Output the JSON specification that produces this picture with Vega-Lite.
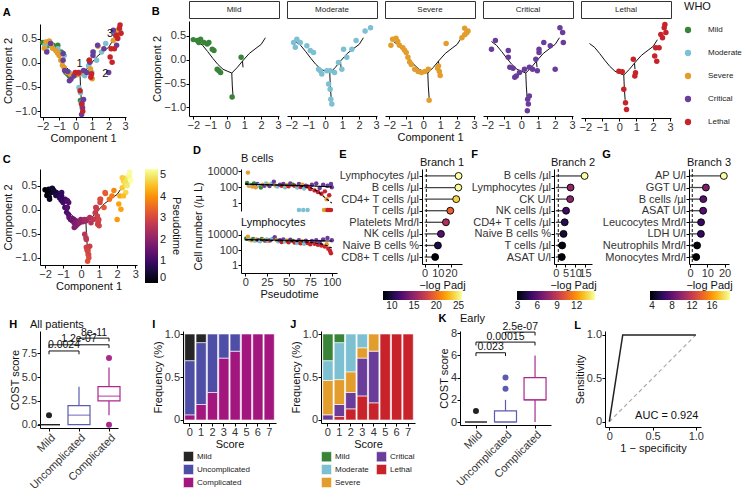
{
"$schema":"https://vega.github.io/schema/vega-lite/v6.json",
"padding":{"left":2,"top":-5,"right":0,"bottom":0},
"config":{
 "font":"Liberation Sans",
 "view":{"stroke":null},
 "axis":{"grid":false,"domainColor":"#000","domainWidth":1,"tickColor":"#000","tickWidth":1,"tickSize":3,"labelColor":"#333","labelFontSize":11,"labelPadding":0.5,"titleColor":"#111","titleFontSize":11,"titleFontWeight":"normal","titlePadding":1,"labelOverlap":false,"labelFlush":false,"labelFont":"Liberation Sans","titleFont":"Liberation Sans"},
 "legend":{"labelFont":"Liberation Sans","titleFont":"Liberation Sans","titleFontWeight":"normal","labelColor":"#222","titleColor":"#111"},
 "title":{"font":"Liberation Sans","fontSize":11,"fontWeight":"normal","color":"#111"}
},
"datasets":{
 "cells":[
  {"x":-2.0,"y":0.42,"who":"Mild","pt":0.0},{"x":-1.76,"y":0.40,"who":"Mild","pt":0.25},{"x":-1.57,"y":0.43,"who":"Mild","pt":0.4},{"x":-1.67,"y":0.36,"who":"Mild","pt":0.35},{"x":-1.37,"y":0.36,"who":"Mild","pt":0.6},{"x":-1.18,"y":0.33,"who":"Mild","pt":0.8},{"x":-1.08,"y":0.36,"who":"Mild","pt":0.9},{"x":-0.88,"y":0.22,"who":"Mild","pt":1.1},{"x":-0.78,"y":0.19,"who":"Mild","pt":1.2},{"x":-0.59,"y":-0.2,"who":"Mild","pt":1.5},{"x":-0.49,"y":-0.23,"who":"Mild","pt":1.65},{"x":-0.39,"y":-0.27,"who":"Mild","pt":1.75},{"x":0.29,"y":-0.78,"who":"Mild","pt":2.9},{"x":0.82,"y":0.05,"who":"Mild","pt":2.8},
  {"x":-1.86,"y":0.36,"who":"Moderate","pt":0.1},{"x":-1.67,"y":0.43,"who":"Moderate","pt":0.3},{"x":-1.76,"y":0.26,"who":"Moderate","pt":0.25},{"x":-1.47,"y":0.36,"who":"Moderate","pt":0.5},{"x":-1.08,"y":0.29,"who":"Moderate","pt":0.9},{"x":-0.88,"y":0.19,"who":"Moderate","pt":1.1},{"x":-0.69,"y":0.15,"who":"Moderate","pt":1.3},{"x":-0.39,"y":-0.2,"who":"Moderate","pt":1.75},{"x":-0.29,"y":-0.23,"who":"Moderate","pt":1.85},{"x":-0.2,"y":-0.3,"who":"Moderate","pt":1.95},{"x":0.1,"y":-0.23,"who":"Moderate","pt":2.2},{"x":0.29,"y":-0.23,"who":"Moderate","pt":2.35},{"x":0.2,"y":-0.51,"who":"Moderate","pt":2.6},{"x":0.29,"y":-0.62,"who":"Moderate","pt":2.7},{"x":0.33,"y":-0.83,"who":"Moderate","pt":2.95},{"x":0.39,"y":-0.93,"who":"Moderate","pt":3.05},{"x":0.55,"y":-0.27,"who":"Moderate","pt":2.55},{"x":0.78,"y":-0.06,"who":"Moderate","pt":2.75},{"x":0.98,"y":-0.2,"who":"Moderate","pt":2.95},{"x":1.08,"y":0.22,"who":"Moderate","pt":3.1},{"x":1.27,"y":0.05,"who":"Moderate","pt":3.3},{"x":1.57,"y":0.22,"who":"Moderate","pt":3.6},{"x":1.82,"y":0.40,"who":"Moderate","pt":3.9},{"x":2.35,"y":0.60,"who":"Moderate","pt":4.7},{"x":2.67,"y":0.67,"who":"Moderate","pt":5.2},
  {"x":-1.8,"y":0.43,"who":"Severe","pt":0.2},{"x":-1.6,"y":0.45,"who":"Severe","pt":0.4},{"x":-1.9,"y":0.3,"who":"Severe","pt":0.1},{"x":-1.5,"y":0.38,"who":"Severe","pt":0.5},{"x":-1.4,"y":0.3,"who":"Severe","pt":0.6},{"x":-1.2,"y":0.25,"who":"Severe","pt":0.8},{"x":-1.1,"y":0.2,"who":"Severe","pt":0.9},{"x":-1.0,"y":0.15,"who":"Severe","pt":1.0},{"x":-0.9,"y":0.05,"who":"Severe","pt":1.1},{"x":-0.8,"y":-0.05,"who":"Severe","pt":1.2},{"x":-0.7,"y":-0.1,"who":"Severe","pt":1.35},{"x":-0.5,"y":-0.2,"who":"Severe","pt":1.6},{"x":-0.3,"y":-0.25,"who":"Severe","pt":1.85},{"x":-0.1,"y":-0.27,"who":"Severe","pt":2.0},{"x":0.1,"y":-0.25,"who":"Severe","pt":2.2},{"x":0.3,"y":-0.2,"who":"Severe","pt":2.4},{"x":0.35,"y":-0.85,"who":"Severe","pt":2.95},{"x":0.85,"y":-0.18,"who":"Severe","pt":2.85},{"x":0.95,"y":-0.25,"who":"Severe","pt":2.95},{"x":1.0,"y":-0.33,"who":"Severe","pt":3.0},{"x":0.9,"y":-0.13,"who":"Severe","pt":2.9},{"x":1.35,"y":0.34,"who":"Severe","pt":3.4},{"x":2.28,"y":0.46,"who":"Severe","pt":4.6},{"x":2.44,"y":0.52,"who":"Severe","pt":4.8},{"x":2.44,"y":0.66,"who":"Severe","pt":4.9},{"x":2.64,"y":0.6,"who":"Severe","pt":5.1},{"x":2.55,"y":0.56,"who":"Severe","pt":5.0},
  {"x":-1.52,"y":0.40,"who":"Critical","pt":0.45},{"x":-1.75,"y":0.22,"who":"Critical","pt":0.3},{"x":-0.76,"y":0.19,"who":"Critical","pt":1.25},{"x":-0.76,"y":0.05,"who":"Critical","pt":1.3},{"x":-0.67,"y":-0.16,"who":"Critical","pt":1.4},{"x":-0.48,"y":-0.18,"who":"Critical","pt":1.65},{"x":-0.38,"y":-0.37,"who":"Critical","pt":1.8},{"x":-0.29,"y":-0.34,"who":"Critical","pt":1.9},{"x":-0.1,"y":-0.27,"who":"Critical","pt":2.05},{"x":0.19,"y":-0.2,"who":"Critical","pt":2.3},{"x":0.48,"y":-0.16,"who":"Critical","pt":2.5},{"x":0.67,"y":-0.2,"who":"Critical","pt":2.7},{"x":0.95,"y":-0.23,"who":"Critical","pt":2.95},{"x":0.38,"y":-0.83,"who":"Critical","pt":2.95},{"x":0.42,"y":-0.93,"who":"Critical","pt":3.05},{"x":0.36,"y":-1.07,"who":"Critical","pt":3.2},{"x":0.48,"y":-0.76,"who":"Critical","pt":2.9},{"x":0.86,"y":0.01,"who":"Critical","pt":2.85},{"x":1.05,"y":0.15,"who":"Critical","pt":3.05},{"x":1.05,"y":0.22,"who":"Critical","pt":3.1},{"x":1.33,"y":0.36,"who":"Critical","pt":3.35},{"x":1.71,"y":0.29,"who":"Critical","pt":3.75},{"x":2.0,"y":-0.2,"who":"Critical","pt":4.1},{"x":2.28,"y":0.67,"who":"Critical","pt":4.7},{"x":2.44,"y":0.57,"who":"Critical","pt":4.9},{"x":2.48,"y":0.36,"who":"Critical","pt":4.8},
  {"x":-0.02,"y":-0.2,"who":"Lethal","pt":2.1},{"x":0.18,"y":-0.21,"who":"Lethal","pt":2.3},{"x":0.27,"y":-0.58,"who":"Lethal","pt":2.7},{"x":0.37,"y":-0.86,"who":"Lethal","pt":3.0},{"x":0.43,"y":-1.0,"who":"Lethal","pt":3.1},{"x":0.83,"y":0.05,"who":"Lethal","pt":2.8},{"x":0.96,"y":-0.23,"who":"Lethal","pt":2.95},{"x":0.92,"y":-0.3,"who":"Lethal","pt":2.9},{"x":2.15,"y":0.29,"who":"Lethal","pt":4.3},{"x":2.35,"y":0.29,"who":"Lethal","pt":4.5},{"x":2.09,"y":0.12,"who":"Lethal","pt":4.2},{"x":2.21,"y":0.01,"who":"Lethal","pt":4.2},{"x":2.45,"y":0.57,"who":"Lethal","pt":4.9},{"x":2.65,"y":0.71,"who":"Lethal","pt":5.2},{"x":2.75,"y":0.61,"who":"Lethal","pt":5.3},{"x":2.55,"y":0.5,"who":"Lethal","pt":5.0},{"x":2.69,"y":0.78,"who":"Lethal","pt":5.25}
 ],
 "whoList":[{"who":"Mild"},{"who":"Moderate"},{"who":"Severe"},{"who":"Critical"},{"who":"Lethal"}],
 "tree":[
  {"seg":"main","x":-1.75,"y":0.38},{"seg":"main","x":-1.45,"y":0.30},{"seg":"main","x":-1.15,"y":0.17},{"seg":"main","x":-0.85,"y":0.03},{"seg":"main","x":-0.55,"y":-0.10},{"seg":"main","x":-0.25,"y":-0.20},{"seg":"main","x":0.0,"y":-0.24},{"seg":"main","x":0.27,"y":-0.28},
  {"seg":"down","x":0.27,"y":-0.28},{"seg":"down","x":0.3,"y":-0.55},{"seg":"down","x":0.35,"y":-0.8},
  {"seg":"right","x":0.27,"y":-0.28},{"seg":"right","x":0.6,"y":-0.16},{"seg":"right","x":0.9,"y":-0.03},{"seg":"right","x":1.3,"y":0.13},{"seg":"right","x":1.7,"y":0.24},{"seg":"right","x":2.0,"y":0.32},{"seg":"right","x":2.25,"y":0.46},
  {"seg":"stub","x":0.9,"y":-0.03},{"seg":"stub","x":0.93,"y":-0.16}
 ],
 "branch":[{"x":0.23,"y":-0.02,"lab":"1"},{"x":1.79,"y":-0.23,"lab":"2"},{"x":2.09,"y":0.6,"lab":"3"}],
 "dB":[
  {"t":2,"v":350,"who":"Mild"},{"t":3,"v":7000,"who":"Severe"},{"t":4,"v":150,"who":"Severe"},{"t":6,"v":200,"who":"Moderate"},{"t":8,"v":120,"who":"Severe"},{"t":10,"v":300,"who":"Mild"},{"t":12,"v":100,"who":"Severe"},{"t":14,"v":250,"who":"Critical"},{"t":16,"v":180,"who":"Moderate"},{"t":18,"v":90,"who":"Mild"},{"t":20,"v":200,"who":"Severe"},{"t":22,"v":150,"who":"Critical"},{"t":24,"v":300,"who":"Moderate"},{"t":26,"v":200,"who":"Severe"},{"t":28,"v":140,"who":"Critical"},{"t":30,"v":250,"who":"Moderate"},{"t":33,"v":500,"who":"Critical"},{"t":35,"v":160,"who":"Severe"},{"t":37,"v":120,"who":"Moderate"},{"t":40,"v":200,"who":"Critical"},{"t":42,"v":150,"who":"Lethal"},{"t":44,"v":250,"who":"Critical"},{"t":46,"v":100,"who":"Moderate"},{"t":48,"v":180,"who":"Severe"},{"t":50,"v":130,"who":"Lethal"},{"t":52,"v":300,"who":"Critical"},{"t":55,"v":200,"who":"Mild"},{"t":57,"v":150,"who":"Lethal"},{"t":60,"v":90,"who":"Moderate"},{"t":62,"v":250,"who":"Critical"},{"t":64,"v":110,"who":"Lethal"},{"t":66,"v":200,"who":"Severe"},{"t":68,"v":70,"who":"Moderate"},{"t":70,"v":150,"who":"Critical"},{"t":72,"v":120,"who":"Lethal"},{"t":75,"v":60,"who":"Lethal"},{"t":77,"v":200,"who":"Critical"},{"t":80,"v":40,"who":"Lethal"},{"t":82,"v":300,"who":"Critical"},{"t":84,"v":25,"who":"Lethal"},{"t":86,"v":80,"who":"Critical"},{"t":88,"v":15,"who":"Lethal"},{"t":90,"v":200,"who":"Critical"},{"t":92,"v":30,"who":"Lethal"},{"t":94,"v":3,"who":"Severe"},{"t":95,"v":150,"who":"Critical"},{"t":97,"v":10,"who":"Lethal"},{"t":99,"v":250,"who":"Critical"},{"t":100,"v":100,"who":"Critical"},
  {"t":62,"v":0.13,"who":"Moderate"},{"t":67,"v":0.13,"who":"Moderate"},{"t":72,"v":0.13,"who":"Moderate"},{"t":91,"v":0.13,"who":"Severe"},{"t":93,"v":0.13,"who":"Severe"},{"t":95,"v":0.13,"who":"Lethal"},{"t":97,"v":0.13,"who":"Lethal"},{"t":99,"v":0.13,"who":"Lethal"}
 ],
 "dBl":[
  {"t":0,"v":250,"fit":"solid"},{"t":25,"v":200,"fit":"solid"},{"t":50,"v":180,"fit":"solid"},{"t":75,"v":150,"fit":"solid"},{"t":100,"v":110,"fit":"solid"},
  {"t":0,"v":250,"fit":"dashed"},{"t":30,"v":200,"fit":"dashed"},{"t":60,"v":150,"fit":"dashed"},{"t":75,"v":90,"fit":"dashed"},{"t":82,"v":40,"fit":"dashed"},{"t":88,"v":12,"fit":"dashed"},{"t":93,"v":4,"fit":"dashed"},{"t":100,"v":1,"fit":"dashed"}
 ],
 "dL":[
  {"t":1,"v":3500,"who":"Mild"},{"t":3,"v":6000,"who":"Severe"},{"t":5,"v":2500,"who":"Moderate"},{"t":7,"v":2000,"who":"Severe"},{"t":9,"v":3000,"who":"Mild"},{"t":11,"v":1800,"who":"Moderate"},{"t":13,"v":2500,"who":"Severe"},{"t":15,"v":2000,"who":"Critical"},{"t":17,"v":1500,"who":"Moderate"},{"t":19,"v":3000,"who":"Mild"},{"t":21,"v":2200,"who":"Severe"},{"t":23,"v":1800,"who":"Critical"},{"t":25,"v":2500,"who":"Moderate"},{"t":27,"v":1600,"who":"Severe"},{"t":29,"v":2000,"who":"Critical"},{"t":31,"v":3000,"who":"Moderate"},{"t":34,"v":5000,"who":"Critical"},{"t":36,"v":2200,"who":"Severe"},{"t":38,"v":1500,"who":"Moderate"},{"t":40,"v":2000,"who":"Critical"},{"t":42,"v":1200,"who":"Lethal"},{"t":44,"v":2500,"who":"Critical"},{"t":46,"v":1400,"who":"Moderate"},{"t":48,"v":1800,"who":"Severe"},{"t":50,"v":1100,"who":"Lethal"},{"t":52,"v":2400,"who":"Critical"},{"t":55,"v":1600,"who":"Mild"},{"t":57,"v":1000,"who":"Lethal"},{"t":60,"v":900,"who":"Moderate"},{"t":62,"v":2000,"who":"Critical"},{"t":64,"v":800,"who":"Lethal"},{"t":66,"v":1500,"who":"Severe"},{"t":68,"v":700,"who":"Moderate"},{"t":70,"v":1800,"who":"Critical"},{"t":72,"v":900,"who":"Lethal"},{"t":75,"v":600,"who":"Lethal"},{"t":77,"v":1600,"who":"Critical"},{"t":80,"v":700,"who":"Lethal"},{"t":82,"v":2000,"who":"Critical"},{"t":84,"v":500,"who":"Lethal"},{"t":86,"v":1200,"who":"Critical"},{"t":88,"v":400,"who":"Lethal"},{"t":90,"v":2500,"who":"Critical"},{"t":92,"v":300,"who":"Lethal"},{"t":94,"v":600,"who":"Severe"},{"t":95,"v":4000,"who":"Critical"},{"t":96,"v":150,"who":"Lethal"},{"t":98,"v":80,"who":"Lethal"},{"t":99,"v":40,"who":"Lethal"},{"t":100,"v":2000,"who":"Critical"}
 ],
 "dLl":[
  {"t":0,"v":2500,"fit":"solid"},{"t":50,"v":2000,"fit":"solid"},{"t":100,"v":1600,"fit":"solid"},
  {"t":0,"v":2200,"fit":"dashed"},{"t":40,"v":1800,"fit":"dashed"},{"t":70,"v":1200,"fit":"dashed"},{"t":85,"v":800,"fit":"dashed"},{"t":92,"v":500,"fit":"dashed"},{"t":100,"v":200,"fit":"dashed"}
 ],
 "lolli":[
  {"br":"Branch 1","var":"Lymphocytes /µl","val":25.8},{"br":"Branch 1","var":"B cells /µl","val":25.6},{"br":"Branch 1","var":"CD4+ T cells /µl","val":24.0},{"br":"Branch 1","var":"T cells /µl","val":19.5},{"br":"Branch 1","var":"Platelets Mrd/l","val":16.2},{"br":"Branch 1","var":"NK cells /µl","val":12.4},{"br":"Branch 1","var":"Naive B cells %","val":10.1},{"br":"Branch 1","var":"CD8+ T cells /µl","val":8.0},
  {"br":"Branch 2","var":"B cells /µl","val":14.8},{"br":"Branch 2","var":"Lymphocytes /µl","val":7.6},{"br":"Branch 2","var":"CK U/l","val":7.4},{"br":"Branch 2","var":"NK cells /µl","val":5.3},{"br":"Branch 2","var":"CD4+ T cells /µl","val":4.6},{"br":"Branch 2","var":"Naive B cells %","val":4.0},{"br":"Branch 2","var":"T cells /µl","val":3.3},{"br":"Branch 2","var":"ASAT U/l","val":3.1},
  {"br":"Branch 3","var":"AP U/l","val":19.6},{"br":"Branch 3","var":"GGT U/l","val":9.2},{"br":"Branch 3","var":"B cells /µl","val":7.7},{"br":"Branch 3","var":"ASAT U/l","val":7.6},{"br":"Branch 3","var":"Leucocytes Mrd/l","val":6.4},{"br":"Branch 3","var":"LDH U/l","val":6.3},{"br":"Branch 3","var":"Neutrophils Mrd/l","val":4.1},{"br":"Branch 3","var":"Monocytes Mrd/l","val":3.6}
 ],
 "boxH":[{"g":"Mild","lo":0,"q1":0,"med":0,"q3":0,"hi":0},{"g":"Uncomplicated","lo":0,"q1":0,"med":1,"q3":2,"hi":4},{"g":"Complicated","lo":1,"q1":2.5,"med":3,"q3":4,"hi":6}],
 "outH":[{"g":"Mild","v":1},{"g":"Complicated","v":7},{"g":"Complicated","v":0}],
 "brH":[{"from":"Mild","to":"Uncomplicated","y":7.75,"yb":7.4,"lab":"0.0024","adj":1},{"from":"Mild","to":"Complicated","mid":"Uncomplicated","y":8.4,"yb":8.05,"lab":"1.2e-07","adj":0},{"from":"Uncomplicated","to":"Complicated","y":9.1,"yb":8.75,"lab":"8e-11","adj":1}],
 "boxK":[{"g":"Mild","lo":0,"q1":0,"med":0,"q3":0,"hi":0},{"g":"Uncomplicated","lo":0,"q1":0,"med":0,"q3":1,"hi":2},{"g":"Complicated","lo":0,"q1":2,"med":2,"q3":4,"hi":6}],
 "outK":[{"g":"Mild","v":1},{"g":"Uncomplicated","v":3},{"g":"Uncomplicated","v":4}],
 "brK":[{"from":"Mild","to":"Uncomplicated","y":6.24,"yb":5.94,"lab":"0.023","adj":1},{"from":"Mild","to":"Complicated","mid":"Uncomplicated","y":7.2,"yb":6.9,"lab":"0.00015","adj":0},{"from":"Uncomplicated","to":"Complicated","y":8.1,"yb":7.8,"lab":"2.5e-07","adj":1}],
 "freqI":[
  {"score":0,"cat":"Complicated","k":1,"frac":0.06},{"score":0,"cat":"Uncomplicated","k":2,"frac":0.63},{"score":0,"cat":"Mild","k":3,"frac":0.31},
  {"score":1,"cat":"Complicated","k":1,"frac":0.18},{"score":1,"cat":"Uncomplicated","k":2,"frac":0.72},{"score":1,"cat":"Mild","k":3,"frac":0.10},
  {"score":2,"cat":"Complicated","k":1,"frac":0.32},{"score":2,"cat":"Uncomplicated","k":2,"frac":0.68},
  {"score":3,"cat":"Complicated","k":1,"frac":0.72},{"score":3,"cat":"Uncomplicated","k":2,"frac":0.28},
  {"score":4,"cat":"Complicated","k":1,"frac":0.80},{"score":4,"cat":"Uncomplicated","k":2,"frac":0.20},
  {"score":5,"cat":"Complicated","k":1,"frac":1.0},{"score":6,"cat":"Complicated","k":1,"frac":1.0},{"score":7,"cat":"Complicated","k":1,"frac":1.0}
 ],
 "freqJ":[
  {"score":0,"cat":"Critical","k":2,"frac":0.06},{"score":0,"cat":"Severe","k":3,"frac":0.40},{"score":0,"cat":"Moderate","k":4,"frac":0.23},{"score":0,"cat":"Mild","k":5,"frac":0.31},
  {"score":1,"cat":"Lethal","k":1,"frac":0.04},{"score":1,"cat":"Critical","k":2,"frac":0.14},{"score":1,"cat":"Severe","k":3,"frac":0.29},{"score":1,"cat":"Moderate","k":4,"frac":0.43},{"score":1,"cat":"Mild","k":5,"frac":0.10},
  {"score":2,"cat":"Lethal","k":1,"frac":0.13},{"score":2,"cat":"Critical","k":2,"frac":0.19},{"score":2,"cat":"Severe","k":3,"frac":0.24},{"score":2,"cat":"Moderate","k":4,"frac":0.44},
  {"score":3,"cat":"Lethal","k":1,"frac":0.28},{"score":3,"cat":"Critical","k":2,"frac":0.44},{"score":3,"cat":"Severe","k":3,"frac":0.12},{"score":3,"cat":"Moderate","k":4,"frac":0.16},
  {"score":4,"cat":"Lethal","k":1,"frac":0.20},{"score":4,"cat":"Critical","k":2,"frac":0.60},{"score":4,"cat":"Severe","k":3,"frac":0.20},
  {"score":5,"cat":"Lethal","k":1,"frac":1.0},{"score":6,"cat":"Lethal","k":1,"frac":1.0},{"score":7,"cat":"Lethal","k":1,"frac":1.0}
 ],
 "roc":[{"fpr":0,"tpr":0},{"fpr":0.155,"tpr":1},{"fpr":1,"tpr":1}],
 "diag":[{"fpr":0,"tpr":0},{"fpr":1,"tpr":1}],
 "auc":[{"fpr":1.03,"tpr":0.066,"lab":"AUC = 0.924"}]
},
"spacing":1,
"resolve":{"scale":{"color":"independent","fill":"independent","stroke":"independent"},"legend":{"color":"independent","fill":"independent","stroke":"independent"}},
"vconcat":[
 {"spacing":22,
  "resolve":{"scale":{"color":"independent","fill":"independent","stroke":"independent"},"legend":{"color":"independent","fill":"independent","stroke":"independent"}},
  "hconcat":[
  {"spacing":0,
   "resolve":{"scale":{"color":"independent"},"legend":{"color":"independent"}},
   "vconcat":[
   {"data":{"values":[{"s":""}]},"width":1,"height":1,"mark":{"type":"text","opacity":0},"encoding":{"text":{"field":"s"}}},
   {"title":{"text":"A","anchor":"start","frame":"bounds","fontWeight":"bold","fontSize":11,"color":"#000","offset":4},
   "width":86,"height":93,
   "layer":[
    {"data":{"name":"tree"},"mark":{"type":"line","color":"#111","strokeWidth":1},
     "encoding":{"x":{"field":"x","type":"quantitative","scale":{"domain":[-2.16,3.05],"nice":false,"zero":false},"axis":{"values":[-2,-1,0,1,2,3],"title":"Component 1"}},
      "y":{"field":"y","type":"quantitative","scale":{"domain":[-1.12,0.8],"nice":false,"zero":false},"axis":{"values":[-1,-0.5,0,0.5],"format":".1f","title":"Component 2"}},
      "detail":{"field":"seg"}}},
    {"data":{"name":"cells"},"mark":{"type":"circle","size":30,"opacity":1},
     "encoding":{"x":{"field":"x","type":"quantitative","scale":{"domain":[-2.16,3.05],"nice":false,"zero":false},"axis":{"values":[-2,-1,0,1,2,3],"title":"Component 1"}},
      "y":{"field":"y","type":"quantitative","scale":{"domain":[-1.12,0.8],"nice":false,"zero":false},"axis":{"values":[-1,-0.5,0,0.5],"format":".1f","title":"Component 2"}},
      "color":{"field":"who","type":"nominal","scale":{"domain":["Mild","Moderate","Severe","Critical","Lethal"],"range":["#3A843A","#7CC0D2","#E39D2D","#6A3D9A","#C8232B"]},"legend":null}}},
    {"data":{"name":"branch"},"mark":{"type":"text","fontSize":11,"color":"#111"},
     "encoding":{"x":{"field":"x","type":"quantitative","scale":{"domain":[-2.16,3.05],"nice":false,"zero":false},"axis":{"values":[-2,-1,0,1,2,3],"title":"Component 1"}},
      "y":{"field":"y","type":"quantitative","scale":{"domain":[-1.12,0.8],"nice":false,"zero":false},"axis":{"values":[-1,-0.5,0,0.5],"format":".1f","title":"Component 2"}},
      "text":{"field":"lab"}}}
   ]}]},
  {"title":{"text":"B","anchor":"start","frame":"bounds","fontWeight":"bold","fontSize":11,"color":"#000","offset":-16},
   "spacing":2,
   "resolve":{"scale":{"color":"independent"},"legend":{"color":"independent"}},
   "hconcat":[
    {"spacing":2,"vconcat":[
      {"data":{"values":[{"s":"Mild"}]},"width":90,"height":17,"view":{"stroke":"#333","strokeWidth":1,"fill":"#fff"},"mark":{"type":"text","fontSize":8,"color":"#222"},"encoding":{"text":{"field":"s"}}},
      {"width":90,"height":95,"layer":[
        {"data":{"name":"tree"},"mark":{"type":"line","color":"#111","strokeWidth":1},"encoding":{"x":{"field":"x","type":"quantitative","scale":{"domain":[-2.25,3.05],"nice":false,"zero":false},"axis":{"values":[-2,-1,0,1,2,3],"title":null}},"y":{"field":"y","type":"quantitative","scale":{"domain":[-1.18,0.81],"nice":false,"zero":false},"axis":{"values":[-1,-0.5,0,0.5],"format":".1f","title":"Component 2"}},"detail":{"field":"seg"}}},
        {"data":{"name":"cells"},"transform":[{"filter":"datum.who=='Mild'"}],"mark":{"type":"circle","size":30,"opacity":1},"encoding":{"x":{"field":"x","type":"quantitative","scale":{"domain":[-2.25,3.05],"nice":false,"zero":false},"axis":{"values":[-2,-1,0,1,2,3],"title":null}},"y":{"field":"y","type":"quantitative","scale":{"domain":[-1.18,0.81],"nice":false,"zero":false},"axis":{"values":[-1,-0.5,0,0.5],"format":".1f","title":"Component 2"}},"color":{"field":"who","type":"nominal","scale":{"domain":["Mild","Moderate","Severe","Critical","Lethal"],"range":["#3A843A","#7CC0D2","#E39D2D","#6A3D9A","#C8232B"]},"legend":null}}}
      ]}
    ]},
    {"spacing":2,"vconcat":[
      {"data":{"values":[{"s":"Moderate"}]},"width":90,"height":17,"view":{"stroke":"#333","strokeWidth":1,"fill":"#fff"},"mark":{"type":"text","fontSize":8,"color":"#222"},"encoding":{"text":{"field":"s"}}},
      {"width":90,"height":95,"layer":[
        {"data":{"name":"tree"},"mark":{"type":"line","color":"#111","strokeWidth":1},"encoding":{"x":{"field":"x","type":"quantitative","scale":{"domain":[-2.25,3.05],"nice":false,"zero":false},"axis":{"values":[-2,-1,0,1,2,3],"title":null}},"y":{"field":"y","type":"quantitative","scale":{"domain":[-1.18,0.81],"nice":false,"zero":false},"axis":null},"detail":{"field":"seg"}}},
        {"data":{"name":"cells"},"transform":[{"filter":"datum.who=='Moderate'"}],"mark":{"type":"circle","size":30,"opacity":1},"encoding":{"x":{"field":"x","type":"quantitative","scale":{"domain":[-2.25,3.05],"nice":false,"zero":false},"axis":{"values":[-2,-1,0,1,2,3],"title":null}},"y":{"field":"y","type":"quantitative","scale":{"domain":[-1.18,0.81],"nice":false,"zero":false},"axis":null},"color":{"field":"who","type":"nominal","scale":{"domain":["Mild","Moderate","Severe","Critical","Lethal"],"range":["#3A843A","#7CC0D2","#E39D2D","#6A3D9A","#C8232B"]},"legend":null}}}
      ]}
    ]},
    {"spacing":2,"vconcat":[
      {"data":{"values":[{"s":"Severe"}]},"width":90,"height":17,"view":{"stroke":"#333","strokeWidth":1,"fill":"#fff"},"mark":{"type":"text","fontSize":8,"color":"#222"},"encoding":{"text":{"field":"s"}}},
      {"width":90,"height":95,"layer":[
        {"data":{"name":"tree"},"mark":{"type":"line","color":"#111","strokeWidth":1},"encoding":{"x":{"field":"x","type":"quantitative","scale":{"domain":[-2.25,3.05],"nice":false,"zero":false},"axis":{"values":[-2,-1,0,1,2,3],"title":"Component 1"}},"y":{"field":"y","type":"quantitative","scale":{"domain":[-1.18,0.81],"nice":false,"zero":false},"axis":null},"detail":{"field":"seg"}}},
        {"data":{"name":"cells"},"transform":[{"filter":"datum.who=='Severe'"}],"mark":{"type":"circle","size":30,"opacity":1},"encoding":{"x":{"field":"x","type":"quantitative","scale":{"domain":[-2.25,3.05],"nice":false,"zero":false},"axis":{"values":[-2,-1,0,1,2,3],"title":"Component 1"}},"y":{"field":"y","type":"quantitative","scale":{"domain":[-1.18,0.81],"nice":false,"zero":false},"axis":null},"color":{"field":"who","type":"nominal","scale":{"domain":["Mild","Moderate","Severe","Critical","Lethal"],"range":["#3A843A","#7CC0D2","#E39D2D","#6A3D9A","#C8232B"]},"legend":null}}}
      ]}
    ]},
    {"spacing":2,"vconcat":[
      {"data":{"values":[{"s":"Critical"}]},"width":90,"height":17,"view":{"stroke":"#333","strokeWidth":1,"fill":"#fff"},"mark":{"type":"text","fontSize":8,"color":"#222"},"encoding":{"text":{"field":"s"}}},
      {"width":90,"height":95,"layer":[
        {"data":{"name":"tree"},"mark":{"type":"line","color":"#111","strokeWidth":1},"encoding":{"x":{"field":"x","type":"quantitative","scale":{"domain":[-2.25,3.05],"nice":false,"zero":false},"axis":{"values":[-2,-1,0,1,2,3],"title":null}},"y":{"field":"y","type":"quantitative","scale":{"domain":[-1.18,0.81],"nice":false,"zero":false},"axis":null},"detail":{"field":"seg"}}},
        {"data":{"name":"cells"},"transform":[{"filter":"datum.who=='Critical'"}],"mark":{"type":"circle","size":30,"opacity":1},"encoding":{"x":{"field":"x","type":"quantitative","scale":{"domain":[-2.25,3.05],"nice":false,"zero":false},"axis":{"values":[-2,-1,0,1,2,3],"title":null}},"y":{"field":"y","type":"quantitative","scale":{"domain":[-1.18,0.81],"nice":false,"zero":false},"axis":null},"color":{"field":"who","type":"nominal","scale":{"domain":["Mild","Moderate","Severe","Critical","Lethal"],"range":["#3A843A","#7CC0D2","#E39D2D","#6A3D9A","#C8232B"]},"legend":null}}}
      ]}
    ]},
    {"spacing":2,"vconcat":[
      {"data":{"values":[{"s":"Lethal"}]},"width":90,"height":17,"view":{"stroke":"#333","strokeWidth":1,"fill":"#fff"},"mark":{"type":"text","fontSize":8,"color":"#222"},"encoding":{"text":{"field":"s"}}},
      {"width":90,"height":95,"layer":[
        {"data":{"name":"tree"},"mark":{"type":"line","color":"#111","strokeWidth":1},"encoding":{"x":{"field":"x","type":"quantitative","scale":{"domain":[-2.25,3.05],"nice":false,"zero":false},"axis":{"values":[-2,-1,0,1,2,3],"title":null}},"y":{"field":"y","type":"quantitative","scale":{"domain":[-1.18,0.81],"nice":false,"zero":false},"axis":null},"detail":{"field":"seg"}}},
        {"data":{"name":"cells"},"transform":[{"filter":"datum.who=='Lethal'"}],"mark":{"type":"circle","size":30,"opacity":1},"encoding":{"x":{"field":"x","type":"quantitative","scale":{"domain":[-2.25,3.05],"nice":false,"zero":false},"axis":{"values":[-2,-1,0,1,2,3],"title":null}},"y":{"field":"y","type":"quantitative","scale":{"domain":[-1.18,0.81],"nice":false,"zero":false},"axis":null},"color":{"field":"who","type":"nominal","scale":{"domain":["Mild","Moderate","Severe","Critical","Lethal"],"range":["#3A843A","#7CC0D2","#E39D2D","#6A3D9A","#C8232B"]},"legend":null}}}
      ]}
    ]},
    {"data":{"name":"whoList"},"width":1,"height":17,
     "mark":{"type":"circle","opacity":0},
     "encoding":{"color":{"field":"who","type":"nominal","scale":{"domain":["Mild","Moderate","Severe","Critical","Lethal"],"range":["#3A843A","#7CC0D2","#E39D2D","#6A3D9A","#C8232B"]},"legend":{"title":"WHO","orient":"right","offset":4,"titleFontSize":11,"labelFontSize":8,"symbolType":"circle","symbolSize":40,"symbolOpacity":1,"rowPadding":15,"titlePadding":14,"labelOffset":16,"symbolStrokeWidth":0}}}}
   ]}
 ]},
 {"spacing":-2,
  "resolve":{"scale":{"color":"independent","fill":"independent","stroke":"independent"},"legend":{"color":"independent","fill":"independent","stroke":"independent"}},
  "hconcat":[
  {"spacing":10,
   "resolve":{"scale":{"color":"independent","fill":"independent","stroke":"independent"},"legend":{"color":"independent","fill":"independent","stroke":"independent"}},
   "hconcat":[
  {"title":{"text":"C","anchor":"start","frame":"bounds","fontWeight":"bold","fontSize":11,"color":"#000","offset":4},
   "width":97,"height":96,
   "layer":[
    {"data":{"name":"tree"},"mark":{"type":"line","color":"#111","strokeWidth":1},
     "encoding":{"x":{"field":"x","type":"quantitative","scale":{"domain":[-2.28,3.1],"nice":false,"zero":false},"axis":{"values":[-2,-1,0,1,2,3],"title":"Component 1"}},
      "y":{"field":"y","type":"quantitative","scale":{"domain":[-1.15,0.85],"nice":false,"zero":false},"axis":{"values":[-1,-0.5,0,0.5],"format":".1f","title":"Component 2"}},
      "detail":{"field":"seg"}}},
    {"data":{"name":"cells"},"mark":{"type":"circle","size":30,"opacity":1},
     "encoding":{"x":{"field":"x","type":"quantitative","scale":{"domain":[-2.28,3.1],"nice":false,"zero":false},"axis":{"values":[-2,-1,0,1,2,3],"title":"Component 1"}},
      "y":{"field":"y","type":"quantitative","scale":{"domain":[-1.15,0.85],"nice":false,"zero":false},"axis":{"values":[-1,-0.5,0,0.5],"format":".1f","title":"Component 2"}},
      "color":{"field":"pt","type":"quantitative","scale":{"scheme":"inferno","domain":[0,5.3]},"legend":{"title":"Pseudotime","titleOrient":"right","titleAngle":90,"titleAnchor":"middle","gradientLength":114,"gradientThickness":13,"values":[0,1,2,3,4,5],"labelFontSize":11,"titleFontSize":11,"offset":8,"direction":"vertical","gradientStrokeWidth":0}}}}
   ]},
  {"title":{"text":"D","anchor":"start","frame":"bounds","fontWeight":"bold","fontSize":11,"color":"#000","offset":-3},
   "resolve":{"scale":{"color":"independent","strokeDash":"independent"},"legend":{"color":"independent"}},
   "vconcat":[
   {"title":{"text":"Cell number (/μ L)","orient":"left","anchor":"middle","frame":"bounds","offset":3,"fontSize":11},
    "spacing":3,
    "resolve":{"scale":{"color":"independent","strokeDash":"independent"},"legend":{"color":"independent"}},
    "vconcat":[
    {"title":{"text":"B cells","anchor":"start","frame":"group","offset":1},
     "width":96,"height":42,
     "layer":[
      {"data":{"name":"dB"},"mark":{"type":"circle","size":20,"opacity":1},
       "encoding":{"x":{"field":"t","type":"quantitative","scale":{"domain":[-5,106],"nice":false,"zero":false},"axis":null},
        "y":{"field":"v","type":"quantitative","scale":{"type":"log","domain":[0.1,20000],"nice":false},"axis":{"values":[1,100,10000],"format":"d","title":null}},
        "color":{"field":"who","type":"nominal","scale":{"domain":["Mild","Moderate","Severe","Critical","Lethal"],"range":["#3A843A","#7CC0D2","#E39D2D","#6A3D9A","#C8232B"]},"legend":null}}},
      {"data":{"name":"dBl"},"mark":{"type":"line","color":"#000","strokeWidth":1.1},
       "encoding":{"x":{"field":"t","type":"quantitative","scale":{"domain":[-5,106],"nice":false,"zero":false},"axis":null},
        "y":{"field":"v","type":"quantitative","scale":{"type":"log","domain":[0.1,20000],"nice":false},"axis":{"values":[1,100,10000],"format":"d","title":null}},
        "detail":{"field":"fit"},
        "strokeDash":{"field":"fit","type":"nominal","scale":{"domain":["solid","dashed"],"range":[[1,0],[3,2]]},"legend":null}}}
     ]},
    {"title":{"text":"Lymphocytes","anchor":"start","frame":"group","offset":1},
     "width":96,"height":43,
     "layer":[
      {"data":{"name":"dL"},"mark":{"type":"circle","size":20,"opacity":1},
       "encoding":{"x":{"field":"t","type":"quantitative","scale":{"domain":[-5,106],"nice":false,"zero":false},"axis":{"values":[0,25,50,75,100],"title":"Pseudotime"}},
        "y":{"field":"v","type":"quantitative","scale":{"type":"log","domain":[0.1,45000],"nice":false},"axis":{"values":[1,100,10000],"format":"d","title":null}},
        "color":{"field":"who","type":"nominal","scale":{"domain":["Mild","Moderate","Severe","Critical","Lethal"],"range":["#3A843A","#7CC0D2","#E39D2D","#6A3D9A","#C8232B"]},"legend":null}}},
      {"data":{"name":"dLl"},"mark":{"type":"line","color":"#000","strokeWidth":1.1},
       "encoding":{"x":{"field":"t","type":"quantitative","scale":{"domain":[-5,106],"nice":false,"zero":false},"axis":{"values":[0,25,50,75,100],"title":"Pseudotime"}},
        "y":{"field":"v","type":"quantitative","scale":{"type":"log","domain":[0.1,45000],"nice":false},"axis":{"values":[1,100,10000],"format":"d","title":null}},
        "detail":{"field":"fit"},
        "strokeDash":{"field":"fit","type":"nominal","scale":{"domain":["solid","dashed"],"range":[[1,0],[3,2]]},"legend":null}}}
     ]}
   ]}
   ]}
  ]},
  {"spacing":5,
   "resolve":{"scale":{"fill":"independent"},"legend":{"fill":"independent"}},
   "hconcat":[
    {"title":{"text":"E","anchor":"start","frame":"bounds","fontWeight":"bold","fontSize":11,"color":"#000","offset":-3},
     "vconcat":[
      {"title":{"text":"Branch 1","anchor":"middle","frame":"group","offset":1},
       "width":40,"height":95,
       "layer":[
        {"data":{"name":"lolli"},"transform":[{"filter":"datum.br=='Branch 1'"}],"mark":{"type":"rule","color":"#444","strokeWidth":1.3},
         "encoding":{"y":{"field":"var","type":"nominal","sort":{"field":"val","order":"descending"},"scale":{"type":"point","padding":0.6},"axis":{"title":null}},
          "x":{"field":"val","type":"quantitative","scale":{"domain":[-2,28.4],"nice":false,"zero":false},"axis":{"values":[0,10,20],"title":"−log Padj"}},
          "x2":{"datum":0}}},
        {"data":{"values":[{"p":1.3}]},"mark":{"type":"rule","color":"#111","strokeDash":[3,2],"strokeWidth":1},
         "encoding":{"x":{"field":"p","type":"quantitative","scale":{"domain":[-2,28.4],"nice":false,"zero":false},"axis":{"values":[0,10,20],"title":"−log Padj"}}}},
        {"data":{"name":"lolli"},"transform":[{"filter":"datum.br=='Branch 1'"}],"mark":{"type":"circle","size":48,"stroke":"#000","strokeWidth":0.9,"opacity":1},
         "encoding":{"y":{"field":"var","type":"nominal","sort":{"field":"val","order":"descending"},"scale":{"type":"point","padding":0.6},"axis":{"title":null}},
          "x":{"field":"val","type":"quantitative","scale":{"domain":[-2,28.4],"nice":false,"zero":false},"axis":{"values":[0,10,20],"title":"−log Padj"}},
          "fill":{"field":"val","type":"quantitative","scale":{"scheme":"inferno","domain":[8,25.8]},"legend":{"orient":"none","direction":"horizontal","legendX":-39,"legendY":122,"gradientLength":79,"gradientThickness":9,"title":null,"values":[10,15,20,25],"labelFontSize":10,"labelOffset":1,"gradientStrokeWidth":0}}}}
       ]}
     ]},
    {"title":{"text":"F","anchor":"start","frame":"bounds","fontWeight":"bold","fontSize":11,"color":"#000","offset":-3},
     "vconcat":[
      {"title":{"text":"Branch 2","anchor":"middle","frame":"group","offset":1},
       "width":38,"height":95,
       "layer":[
        {"data":{"name":"lolli"},"transform":[{"filter":"datum.br=='Branch 2'"}],"mark":{"type":"rule","color":"#444","strokeWidth":1.3},
         "encoding":{"y":{"field":"var","type":"nominal","sort":{"field":"val","order":"descending"},"scale":{"type":"point","padding":0.6},"axis":{"title":null}},
          "x":{"field":"val","type":"quantitative","scale":{"domain":[-0.9,18.6],"nice":false,"zero":false},"axis":{"values":[0,5,10,15],"title":"−log Padj"}},
          "x2":{"datum":0}}},
        {"data":{"values":[{"p":1.3}]},"mark":{"type":"rule","color":"#111","strokeDash":[3,2],"strokeWidth":1},
         "encoding":{"x":{"field":"p","type":"quantitative","scale":{"domain":[-0.9,18.6],"nice":false,"zero":false},"axis":{"values":[0,5,10,15],"title":"−log Padj"}}}},
        {"data":{"name":"lolli"},"transform":[{"filter":"datum.br=='Branch 2'"}],"mark":{"type":"circle","size":48,"stroke":"#000","strokeWidth":0.9,"opacity":1},
         "encoding":{"y":{"field":"var","type":"nominal","sort":{"field":"val","order":"descending"},"scale":{"type":"point","padding":0.6},"axis":{"title":null}},
          "x":{"field":"val","type":"quantitative","scale":{"domain":[-0.9,18.6],"nice":false,"zero":false},"axis":{"values":[0,5,10,15],"title":"−log Padj"}},
          "fill":{"field":"val","type":"quantitative","scale":{"scheme":"inferno","domain":[2.9,14.8]},"legend":{"orient":"none","direction":"horizontal","legendX":-37,"legendY":122,"gradientLength":78,"gradientThickness":9,"title":null,"values":[3,6,9,12],"labelFontSize":10,"labelOffset":1,"gradientStrokeWidth":0}}}}
       ]}
     ]},
    {"title":{"text":"G","anchor":"start","frame":"bounds","fontWeight":"bold","fontSize":11,"color":"#000","offset":-3},
     "vconcat":[
      {"title":{"text":"Branch 3","anchor":"middle","frame":"group","offset":1},
       "width":40,"height":95,
       "layer":[
        {"data":{"name":"lolli"},"transform":[{"filter":"datum.br=='Branch 3'"}],"mark":{"type":"rule","color":"#444","strokeWidth":1.3},
         "encoding":{"y":{"field":"var","type":"nominal","sort":{"field":"val","order":"descending"},"scale":{"type":"point","padding":0.6},"axis":{"title":null}},
          "x":{"field":"val","type":"quantitative","scale":{"domain":[-0.6,22.6],"nice":false,"zero":false},"axis":{"values":[0,10,20],"title":"−log Padj"}},
          "x2":{"datum":0}}},
        {"data":{"values":[{"p":1.3}]},"mark":{"type":"rule","color":"#111","strokeDash":[3,2],"strokeWidth":1},
         "encoding":{"x":{"field":"p","type":"quantitative","scale":{"domain":[-0.6,22.6],"nice":false,"zero":false},"axis":{"values":[0,10,20],"title":"−log Padj"}}}},
        {"data":{"name":"lolli"},"transform":[{"filter":"datum.br=='Branch 3'"}],"mark":{"type":"circle","size":48,"stroke":"#000","strokeWidth":0.9,"opacity":1},
         "encoding":{"y":{"field":"var","type":"nominal","sort":{"field":"val","order":"descending"},"scale":{"type":"point","padding":0.6},"axis":{"title":null}},
          "x":{"field":"val","type":"quantitative","scale":{"domain":[-0.6,22.6],"nice":false,"zero":false},"axis":{"values":[0,10,20],"title":"−log Padj"}},
          "fill":{"field":"val","type":"quantitative","scale":{"scheme":"inferno","domain":[3.6,19.6]},"legend":{"orient":"none","direction":"horizontal","legendX":-39,"legendY":122,"gradientLength":80,"gradientThickness":9,"title":null,"values":[4,8,12,16],"labelFontSize":10,"labelOffset":1,"gradientStrokeWidth":0}}}}
       ]}
     ]}
   ]}
 ]},
 {"spacing":31,
  "resolve":{"scale":{"color":"independent","fill":"independent","stroke":"independent"},"legend":{"color":"independent","fill":"independent","stroke":"independent"}},
  "hconcat":[
  {"title":{"text":"H","anchor":"start","frame":"bounds","fontWeight":"bold","fontSize":11,"color":"#000","offset":-11},
   "vconcat":[
    {"title":{"text":"All patients","anchor":"start","frame":"group","offset":-2,"dx":-10},
     "width":78,"height":97,
     "layer":[
      {"data":{"name":"boxH"},"mark":{"type":"rule","strokeWidth":1.2},
       "encoding":{"x":{"field":"g","type":"nominal","scale":{"type":"point","domain":["Mild","Uncomplicated","Complicated"],"padding":0.3},"axis":{"title":null,"labelAngle":-45}},
        "y":{"field":"lo","type":"quantitative","scale":{"domain":[-0.35,9.85],"nice":false,"zero":false},"axis":{"values":[0,2.5,5,7.5],"format":".1f","title":"COST score"}},
        "y2":{"field":"q1"},
        "color":{"field":"g","type":"nominal","scale":{"domain":["Mild","Uncomplicated","Complicated"],"range":["#222222","#5B5BB2","#AA2A8C"]},"legend":null}}},
      {"data":{"name":"boxH"},"mark":{"type":"rule","strokeWidth":1.2},
       "encoding":{"x":{"field":"g","type":"nominal","scale":{"type":"point","domain":["Mild","Uncomplicated","Complicated"],"padding":0.3},"axis":{"title":null,"labelAngle":-45}},
        "y":{"field":"q3","type":"quantitative","scale":{"domain":[-0.35,9.85],"nice":false,"zero":false},"axis":{"values":[0,2.5,5,7.5],"format":".1f","title":"COST score"}},
        "y2":{"field":"hi"},
        "color":{"field":"g","type":"nominal","scale":{"domain":["Mild","Uncomplicated","Complicated"],"range":["#222222","#5B5BB2","#AA2A8C"]},"legend":null}}},
      {"data":{"name":"boxH"},"mark":{"type":"bar","width":22,"fill":"#fff","strokeWidth":1.2},
       "encoding":{"x":{"field":"g","type":"nominal","scale":{"type":"point","domain":["Mild","Uncomplicated","Complicated"],"padding":0.3},"axis":{"title":null,"labelAngle":-45}},
        "y":{"field":"q1","type":"quantitative","scale":{"domain":[-0.35,9.85],"nice":false,"zero":false},"axis":{"values":[0,2.5,5,7.5],"format":".1f","title":"COST score"}},
        "y2":{"field":"q3"},
        "stroke":{"field":"g","type":"nominal","scale":{"domain":["Mild","Uncomplicated","Complicated"],"range":["#222222","#5B5BB2","#AA2A8C"]},"legend":null}}},
      {"data":{"name":"boxH"},"mark":{"type":"tick","size":22,"thickness":1.3},
       "encoding":{"x":{"field":"g","type":"nominal","scale":{"type":"point","domain":["Mild","Uncomplicated","Complicated"],"padding":0.3},"axis":{"title":null,"labelAngle":-45}},
        "y":{"field":"med","type":"quantitative","scale":{"domain":[-0.35,9.85],"nice":false,"zero":false},"axis":{"values":[0,2.5,5,7.5],"format":".1f","title":"COST score"}},
        "color":{"field":"g","type":"nominal","scale":{"domain":["Mild","Uncomplicated","Complicated"],"range":["#222222","#5B5BB2","#AA2A8C"]},"legend":null}}},
      {"data":{"name":"outH"},"mark":{"type":"circle","size":36,"opacity":1},
       "encoding":{"x":{"field":"g","type":"nominal","scale":{"type":"point","domain":["Mild","Uncomplicated","Complicated"],"padding":0.3},"axis":{"title":null,"labelAngle":-45}},
        "y":{"field":"v","type":"quantitative","scale":{"domain":[-0.35,9.85],"nice":false,"zero":false},"axis":{"values":[0,2.5,5,7.5],"format":".1f","title":"COST score"}},
        "color":{"field":"g","type":"nominal","scale":{"domain":["Mild","Uncomplicated","Complicated"],"range":["#222222","#5B5BB2","#AA2A8C"]},"legend":null}}},
      {"data":{"name":"brH"},"mark":{"type":"rule","color":"#111","strokeWidth":1},
       "encoding":{"x":{"field":"from","type":"nominal","scale":{"type":"point","domain":["Mild","Uncomplicated","Complicated"],"padding":0.3},"axis":{"title":null,"labelAngle":-45}},
        "x2":{"field":"to"},
        "y":{"field":"y","type":"quantitative","scale":{"domain":[-0.35,9.85],"nice":false,"zero":false},"axis":{"values":[0,2.5,5,7.5],"format":".1f","title":"COST score"}}}},
      {"data":{"name":"brH"},"mark":{"type":"rule","color":"#111","strokeWidth":1},
       "encoding":{"x":{"field":"from","type":"nominal","scale":{"type":"point","domain":["Mild","Uncomplicated","Complicated"],"padding":0.3},"axis":{"title":null,"labelAngle":-45}},
        "y":{"field":"y","type":"quantitative","scale":{"domain":[-0.35,9.85],"nice":false,"zero":false},"axis":{"values":[0,2.5,5,7.5],"format":".1f","title":"COST score"}},
        "y2":{"field":"yb"}}},
      {"data":{"name":"brH"},"mark":{"type":"rule","color":"#111","strokeWidth":1},
       "encoding":{"x":{"field":"to","type":"nominal","scale":{"type":"point","domain":["Mild","Uncomplicated","Complicated"],"padding":0.3},"axis":{"title":null,"labelAngle":-45}},
        "y":{"field":"y","type":"quantitative","scale":{"domain":[-0.35,9.85],"nice":false,"zero":false},"axis":{"values":[0,2.5,5,7.5],"format":".1f","title":"COST score"}},
        "y2":{"field":"yb"}}},
      {"data":{"name":"brH"},"transform":[{"filter":"datum.adj==1"}],"mark":{"type":"text","fontSize":10.5,"color":"#111","baseline":"bottom","dy":-0.5,"dx":15},
       "encoding":{"x":{"field":"from","type":"nominal","scale":{"type":"point","domain":["Mild","Uncomplicated","Complicated"],"padding":0.3},"axis":{"title":null,"labelAngle":-45}},
        "y":{"field":"y","type":"quantitative","scale":{"domain":[-0.35,9.85],"nice":false,"zero":false},"axis":{"values":[0,2.5,5,7.5],"format":".1f","title":"COST score"}},
        "text":{"field":"lab"}}},
      {"data":{"name":"brH"},"transform":[{"filter":"datum.adj==0"}],"mark":{"type":"text","fontSize":10.5,"color":"#111","baseline":"bottom","dy":-0.5},
       "encoding":{"x":{"field":"mid","type":"nominal","scale":{"type":"point","domain":["Mild","Uncomplicated","Complicated"],"padding":0.3},"axis":{"title":null,"labelAngle":-45}},
        "y":{"field":"y","type":"quantitative","scale":{"domain":[-0.35,9.85],"nice":false,"zero":false},"axis":{"values":[0,2.5,5,7.5],"format":".1f","title":"COST score"}},
        "text":{"field":"lab"}}}
     ]}
   ]},
  {"spacing":23,
   "resolve":{"scale":{"color":"independent","fill":"independent","stroke":"independent"},"legend":{"color":"independent","fill":"independent","stroke":"independent"}},
   "hconcat":[
   {"spacing":14,
    "resolve":{"scale":{"color":"independent"},"legend":{"color":"independent"}},
    "hconcat":[
      {"title":{"text":"I","anchor":"start","frame":"bounds","fontWeight":"bold","fontSize":11,"color":"#000","offset":-2},
       "width":93,"height":92,
       "data":{"name":"freqI"},
       "mark":{"type":"bar","stroke":"#fff","strokeWidth":0.6},
       "encoding":{
        "x":{"field":"score","type":"ordinal","scale":{"paddingInner":0.1,"paddingOuter":0.15},"axis":{"title":"Score","labelAngle":0}},
        "y":{"field":"frac","type":"quantitative","stack":"zero","scale":{"domain":[-0.035,1.035],"nice":false,"zero":false},"axis":{"values":[0,0.5,1],"labelExpr":"datum.value==0?'0':format(datum.value,'.1f')","title":"Frequency (%)"}},
        "color":{"field":"cat","type":"nominal","scale":{"domain":["Mild","Uncomplicated","Complicated"],"range":["#262626","#4E4EA6","#A2167E"]},"legend":{"orient":"bottom","direction":"vertical","title":null,"symbolType":"square","symbolSize":100,"symbolStrokeColor":"#fff","symbolStrokeWidth":0.5,"labelFontSize":8,"rowPadding":0,"offset":1,"labelOffset":3}},
        "order":{"field":"k","type":"quantitative"}}},
      {"title":{"text":"J","anchor":"start","frame":"bounds","fontWeight":"bold","fontSize":11,"color":"#000","offset":-2},
       "width":94,"height":92,
       "data":{"name":"freqJ"},
       "mark":{"type":"bar","stroke":"#fff","strokeWidth":0.6},
       "encoding":{
        "x":{"field":"score","type":"ordinal","scale":{"paddingInner":0.1,"paddingOuter":0.15},"axis":{"title":"Score","labelAngle":0}},
        "y":{"field":"frac","type":"quantitative","stack":"zero","scale":{"domain":[-0.035,1.035],"nice":false,"zero":false},"axis":{"values":[0,0.5,1],"labelExpr":"datum.value==0?'0':format(datum.value,'.1f')","title":"Frequency (%)"}},
        "color":{"field":"cat","type":"nominal","scale":{"domain":["Mild","Moderate","Severe","Critical","Lethal"],"range":["#3A843A","#7CC0D2","#E39D2D","#6A3D9A","#C8232B"]},"legend":{"orient":"bottom","direction":"vertical","columns":2,"title":null,"symbolType":"square","symbolSize":100,"symbolStrokeColor":"#fff","symbolStrokeWidth":0.5,"labelFontSize":8,"rowPadding":0,"columnPadding":6,"offset":1,"labelOffset":3}},
        "order":{"field":"k","type":"quantitative"}}}
    ]},
   {"title":{"text":"K","anchor":"start","frame":"bounds","fontWeight":"bold","fontSize":11,"color":"#000","offset":-11},
    "vconcat":[
     {"title":{"text":"Early","anchor":"start","frame":"group","offset":-2},
      "width":91,"height":94,
      "layer":[
       {"data":{"name":"boxK"},"mark":{"type":"rule","strokeWidth":1.2},
        "encoding":{"x":{"field":"g","type":"nominal","scale":{"type":"point","domain":["Mild","Uncomplicated","Complicated"],"padding":0.54},"axis":{"title":null,"labelAngle":-45}},
         "y":{"field":"lo","type":"quantitative","scale":{"domain":[-0.27,8.2],"nice":false,"zero":false},"axis":{"values":[0,2,4,6,8],"format":"d","title":"COST score"}},
         "y2":{"field":"q1"},
         "color":{"field":"g","type":"nominal","scale":{"domain":["Mild","Uncomplicated","Complicated"],"range":["#222222","#5B5BB2","#AA2A8C"]},"legend":null}}},
       {"data":{"name":"boxK"},"mark":{"type":"rule","strokeWidth":1.2},
        "encoding":{"x":{"field":"g","type":"nominal","scale":{"type":"point","domain":["Mild","Uncomplicated","Complicated"],"padding":0.54},"axis":{"title":null,"labelAngle":-45}},
         "y":{"field":"q3","type":"quantitative","scale":{"domain":[-0.27,8.2],"nice":false,"zero":false},"axis":{"values":[0,2,4,6,8],"format":"d","title":"COST score"}},
         "y2":{"field":"hi"},
         "color":{"field":"g","type":"nominal","scale":{"domain":["Mild","Uncomplicated","Complicated"],"range":["#222222","#5B5BB2","#AA2A8C"]},"legend":null}}},
       {"data":{"name":"boxK"},"mark":{"type":"bar","width":22,"fill":"#fff","strokeWidth":1.2},
        "encoding":{"x":{"field":"g","type":"nominal","scale":{"type":"point","domain":["Mild","Uncomplicated","Complicated"],"padding":0.54},"axis":{"title":null,"labelAngle":-45}},
         "y":{"field":"q1","type":"quantitative","scale":{"domain":[-0.27,8.2],"nice":false,"zero":false},"axis":{"values":[0,2,4,6,8],"format":"d","title":"COST score"}},
         "y2":{"field":"q3"},
         "stroke":{"field":"g","type":"nominal","scale":{"domain":["Mild","Uncomplicated","Complicated"],"range":["#222222","#5B5BB2","#AA2A8C"]},"legend":null}}},
       {"data":{"name":"boxK"},"mark":{"type":"tick","size":22,"thickness":1.3},
        "encoding":{"x":{"field":"g","type":"nominal","scale":{"type":"point","domain":["Mild","Uncomplicated","Complicated"],"padding":0.54},"axis":{"title":null,"labelAngle":-45}},
         "y":{"field":"med","type":"quantitative","scale":{"domain":[-0.27,8.2],"nice":false,"zero":false},"axis":{"values":[0,2,4,6,8],"format":"d","title":"COST score"}},
         "color":{"field":"g","type":"nominal","scale":{"domain":["Mild","Uncomplicated","Complicated"],"range":["#222222","#5B5BB2","#AA2A8C"]},"legend":null}}},
       {"data":{"name":"outK"},"mark":{"type":"circle","size":36,"opacity":1},
        "encoding":{"x":{"field":"g","type":"nominal","scale":{"type":"point","domain":["Mild","Uncomplicated","Complicated"],"padding":0.54},"axis":{"title":null,"labelAngle":-45}},
         "y":{"field":"v","type":"quantitative","scale":{"domain":[-0.27,8.2],"nice":false,"zero":false},"axis":{"values":[0,2,4,6,8],"format":"d","title":"COST score"}},
         "color":{"field":"g","type":"nominal","scale":{"domain":["Mild","Uncomplicated","Complicated"],"range":["#222222","#5B5BB2","#AA2A8C"]},"legend":null}}},
       {"data":{"name":"brK"},"mark":{"type":"rule","color":"#111","strokeWidth":1},
        "encoding":{"x":{"field":"from","type":"nominal","scale":{"type":"point","domain":["Mild","Uncomplicated","Complicated"],"padding":0.54},"axis":{"title":null,"labelAngle":-45}},
         "x2":{"field":"to"},
         "y":{"field":"y","type":"quantitative","scale":{"domain":[-0.27,8.2],"nice":false,"zero":false},"axis":{"values":[0,2,4,6,8],"format":"d","title":"COST score"}}}},
       {"data":{"name":"brK"},"mark":{"type":"rule","color":"#111","strokeWidth":1},
        "encoding":{"x":{"field":"from","type":"nominal","scale":{"type":"point","domain":["Mild","Uncomplicated","Complicated"],"padding":0.54},"axis":{"title":null,"labelAngle":-45}},
         "y":{"field":"y","type":"quantitative","scale":{"domain":[-0.27,8.2],"nice":false,"zero":false},"axis":{"values":[0,2,4,6,8],"format":"d","title":"COST score"}},
         "y2":{"field":"yb"}}},
       {"data":{"name":"brK"},"mark":{"type":"rule","color":"#111","strokeWidth":1},
        "encoding":{"x":{"field":"to","type":"nominal","scale":{"type":"point","domain":["Mild","Uncomplicated","Complicated"],"padding":0.54},"axis":{"title":null,"labelAngle":-45}},
         "y":{"field":"y","type":"quantitative","scale":{"domain":[-0.27,8.2],"nice":false,"zero":false},"axis":{"values":[0,2,4,6,8],"format":"d","title":"COST score"}},
         "y2":{"field":"yb"}}},
       {"data":{"name":"brK"},"transform":[{"filter":"datum.adj==1"}],"mark":{"type":"text","fontSize":10.5,"color":"#111","baseline":"bottom","dy":-0.5,"dx":14.7},
        "encoding":{"x":{"field":"from","type":"nominal","scale":{"type":"point","domain":["Mild","Uncomplicated","Complicated"],"padding":0.54},"axis":{"title":null,"labelAngle":-45}},
         "y":{"field":"y","type":"quantitative","scale":{"domain":[-0.27,8.2],"nice":false,"zero":false},"axis":{"values":[0,2,4,6,8],"format":"d","title":"COST score"}},
         "text":{"field":"lab"}}},
       {"data":{"name":"brK"},"transform":[{"filter":"datum.adj==0"}],"mark":{"type":"text","fontSize":10.5,"color":"#111","baseline":"bottom","dy":-0.5},
        "encoding":{"x":{"field":"mid","type":"nominal","scale":{"type":"point","domain":["Mild","Uncomplicated","Complicated"],"padding":0.54},"axis":{"title":null,"labelAngle":-45}},
         "y":{"field":"y","type":"quantitative","scale":{"domain":[-0.27,8.2],"nice":false,"zero":false},"axis":{"values":[0,2,4,6,8],"format":"d","title":"COST score"}},
         "text":{"field":"lab"}}}
      ]}
    ]},
    {"title":{"text":"L","anchor":"start","frame":"bounds","fontWeight":"bold","fontSize":11,"color":"#000","offset":-2},
     "width":96,"height":96,
     "layer":[
      {"data":{"name":"diag"},"mark":{"type":"line","color":"#AAAAAA","strokeDash":[4,3],"strokeWidth":1.2},
       "encoding":{"x":{"field":"fpr","type":"quantitative","scale":{"domain":[-0.05,1.06],"nice":false,"zero":false},"axis":{"values":[0,0.5,1],"labelExpr":"datum.value==0?'0':format(datum.value,'.1f')","title":"1 − specificity"}},
        "y":{"field":"tpr","type":"quantitative","scale":{"domain":[-0.061,1.046],"nice":false,"zero":false},"axis":{"values":[0,0.5,1],"labelExpr":"datum.value==0?'0':format(datum.value,'.1f')","title":"Sensitivity"}}}},
      {"data":{"name":"roc"},"mark":{"type":"line","color":"#222","strokeWidth":1.5},
       "encoding":{"x":{"field":"fpr","type":"quantitative","scale":{"domain":[-0.05,1.06],"nice":false,"zero":false},"axis":{"values":[0,0.5,1],"labelExpr":"datum.value==0?'0':format(datum.value,'.1f')","title":"1 − specificity"}},
        "y":{"field":"tpr","type":"quantitative","scale":{"domain":[-0.061,1.046],"nice":false,"zero":false},"axis":{"values":[0,0.5,1],"labelExpr":"datum.value==0?'0':format(datum.value,'.1f')","title":"Sensitivity"}}}},
      {"data":{"name":"auc"},"mark":{"type":"text","fontSize":11,"color":"#111","align":"right","baseline":"middle"},
       "encoding":{"x":{"field":"fpr","type":"quantitative","scale":{"domain":[-0.05,1.06],"nice":false,"zero":false},"axis":{"values":[0,0.5,1],"labelExpr":"datum.value==0?'0':format(datum.value,'.1f')","title":"1 − specificity"}},
        "y":{"field":"tpr","type":"quantitative","scale":{"domain":[-0.061,1.046],"nice":false,"zero":false},"axis":{"values":[0,0.5,1],"labelExpr":"datum.value==0?'0':format(datum.value,'.1f')","title":"Sensitivity"}},
        "text":{"field":"lab"}}}
     ]}
   ]}
 ]}
]
}
